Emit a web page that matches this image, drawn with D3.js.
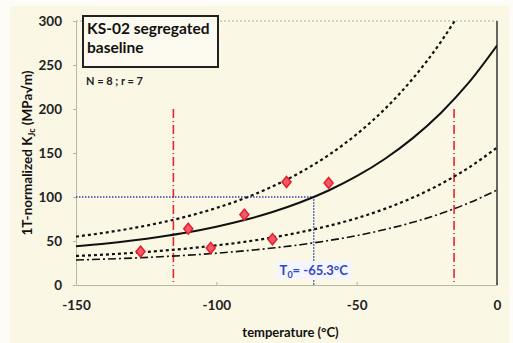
<!DOCTYPE html>
<html>
<head>
<meta charset="utf-8">
<script src="https://cdn.jsdelivr.net/npm/d3@7"></script>
<style>
  body { margin: 0; background: #fdfcf6; }
  svg { display: block; }
</style>
</head>
<body>
<div id="chart"></div>
<script>
// master curve data (temperature in C, K in MPa√m)
var temps = [-150, -140, -130, -120, -110, -100, -90, -80, -70, -60, -50, -40, -30, -20, -10, 0];
var median = [44.0, 46.9, 50.5, 54.8, 59.9, 66.2, 73.8, 82.9, 94.0, 107.4, 123.6, 143.2, 166.9, 195.5, 230.2, 272.1];
var upper95 = [55.0, 59.3, 64.5, 70.7, 78.3, 87.5, 98.5, 111.9, 128.1, 147.6, 171.3, 199.9, 234.5, 276.3, 326.9, 386.2];
var lower5 = [33.0, 34.5, 36.5, 38.8, 41.6, 45.0, 49.0, 54.0, 60.0, 67.2, 75.9, 86.5, 99.3, 114.8, 133.5, 156.1];
var lower1 = [28.4, 29.4, 30.6, 32.1, 33.9, 36.1, 38.8, 42.0, 45.8, 50.5, 56.1, 63.0, 71.2, 81.2, 93.3, 107.9];

// test results
var testT = [-127, -110, -102, -90, -80, -75, -60];
var testK = [38, 64, 42, 80, 52, 117, 116];

var T0 = -65.3;
var validity = [-115.3, -15.3];
var xTicks = [-150, -100, -50, 0];
var yTicks = [0, 50, 100, 150, 200, 250, 300];

var W = 513, H = 343;
var margin = {top: 21, right: 16, bottom: 58, left: 76};
var width = W - margin.left - margin.right;
var height = H - margin.top - margin.bottom;
var font = "Lato, 'Open Sans', sans-serif";

var svg = d3.select("#chart").append("svg")
    .attr("width", W)
    .attr("height", H);

// cream panel
svg.append("rect")
    .attr("x", 10).attr("y", 6)
    .attr("width", W - 14).attr("height", H - 6)
    .attr("fill", "#faf7e5");

var g = svg.append("g")
    .attr("transform", "translate(" + margin.left + "," + margin.top + ")");

var x = d3.scaleLinear().domain([-150, 0]).range([0, width]);
var y = d3.scaleLinear().domain([0, 300]).range([height, 0]);

g.append("clipPath").attr("id", "clip")
  .append("rect").attr("width", width).attr("height", height);

// axes
var xAxis = g.append("g")
    .attr("transform", "translate(0," + height + ")")
    .call(d3.axisBottom(x).tickValues(xTicks).tickFormat(d => String(d))
      .tickSizeInner(-3).tickSizeOuter(0).tickPadding(15));
var yAxis = g.append("g")
    .call(d3.axisLeft(y).tickValues(yTicks).tickSizeInner(3).tickSizeOuter(0).tickPadding(11));

[xAxis, yAxis].forEach(a => {
  a.select(".domain").attr("stroke", "#b8b89a");
  a.selectAll(".tick line").attr("stroke", "#b8b89a");
  a.selectAll("text")
    .attr("fill", "#222")
    .style("font-family", font)
    .style("font-weight", "bold")
    .style("font-size", "13.5px");
});

// top border dotted, right border solid
g.append("line")
    .attr("x1", 0).attr("x2", width).attr("y1", 0).attr("y2", 0)
    .attr("stroke", "#aaa").attr("stroke-dasharray", "2,2");
g.append("line")
    .attr("x1", width).attr("x2", width).attr("y1", 0).attr("y2", height)
    .attr("stroke", "#333").attr("stroke-width", 1.5);

// validity limits
validity.forEach(v => {
  g.append("line")
    .attr("x1", x(v)).attr("x2", x(v))
    .attr("y1", y(200)).attr("y2", y(0))
    .attr("stroke", "#e8262e").attr("stroke-width", 1.6)
    .attr("stroke-dasharray", "9,3,1,3");
});

// T0 guide lines
g.append("path")
    .attr("d", "M0," + y(100) + "H" + x(T0) + "V" + y(0))
    .attr("fill", "none")
    .attr("stroke", "#3344aa").attr("stroke-width", 1.5)
    .attr("stroke-dasharray", "1.5,1.5");

var curves = [
  {vals: median, dash: null, w: 2},
  {vals: upper95, dash: "3,3", w: 2.2},
  {vals: lower5, dash: "3,3", w: 2.2},
  {vals: lower1, dash: "8,3,2,3", w: 1.6}
];

var line = d3.line()
    .x((d, i) => x(temps[i]))
    .y(d => y(d))
    .curve(d3.curveMonotoneX);

var cg = g.append("g").attr("clip-path", "url(#clip)");
curves.forEach(c => {
  cg.append("path")
    .datum(c.vals)
    .attr("d", line)
    .attr("fill", "none")
    .attr("stroke", "#111")
    .attr("stroke-width", c.w)
    .attr("stroke-dasharray", c.dash);
});

// data points
g.selectAll("path.pt")
  .data(testT)
  .enter().append("path")
    .attr("class", "pt")
    .attr("d", "M0,-5.5L4.5,0L0,5.5L-4.5,0Z")
    .attr("transform", (d, i) => "translate(" + x(d) + "," + y(testK[i]) + ")")
    .attr("fill", "#f05a6a")
    .attr("stroke", "#e41e2e")
    .attr("stroke-width", 1.5);

// T0 label
var lab = g.append("g").attr("transform", "translate(" + x(T0) + "," + (y(0) - 13) + ")");
lab.append("rect")
    .attr("x", -38).attr("y", -11).attr("width", 76).attr("height", 18)
    .attr("fill", "#f4f6ff");
var lt = lab.append("text")
    .attr("text-anchor", "middle")
    .attr("y", 3)
    .attr("fill", "#3347c0")
    .style("font-family", font)
    .style("font-weight", "bold")
    .style("font-size", "13px");
lt.append("tspan").text("T");
lt.append("tspan").attr("dy", 3).style("font-size", "9px").text("0");
lt.append("tspan").attr("dy", -3).text("= -65.3°C");

// title box
g.append("rect")
    .attr("x", 7).attr("y", -5).attr("width", 135).attr("height", 51)
    .attr("fill", "#fcfaee")
    .attr("stroke", "#222").attr("stroke-width", 2);
var tt = g.append("text")
    .attr("x", 11).attr("y", 13)
    .attr("fill", "#111")
    .style("font-family", font)
    .style("font-weight", "bold")
    .style("font-size", "15.5px");
tt.append("tspan").text("KS-02 segregated");
tt.append("tspan").attr("x", 11).attr("dy", 19).text("baseline");

g.append("text")
    .attr("x", 10).attr("y", 64)
    .attr("fill", "#222")
    .style("font-family", font)
    .style("font-weight", "bold")
    .style("font-size", "11px")
    .text("N = 8 ; r = 7");

// axis titles
svg.append("text")
    .attr("x", margin.left + width / 2 + 4)
    .attr("y", 337)
    .attr("text-anchor", "middle")
    .attr("fill", "#111")
    .style("font-family", font)
    .style("font-weight", "bold")
    .style("font-size", "13px")
    .text("temperature (°C)");

var yt = svg.append("text")
    .attr("transform", "translate(32," + (margin.top + height / 2) + ") rotate(-90)")
    .attr("text-anchor", "middle")
    .attr("fill", "#111")
    .style("font-family", font)
    .style("font-weight", "bold")
    .style("font-size", "13.5px");
yt.append("tspan").text("1T-normalized K");
yt.append("tspan").attr("dy", 3).style("font-size", "9px").text("Jc");
yt.append("tspan").attr("dy", -3).text(" (MPa√m)");
</script>
</body>
</html>
